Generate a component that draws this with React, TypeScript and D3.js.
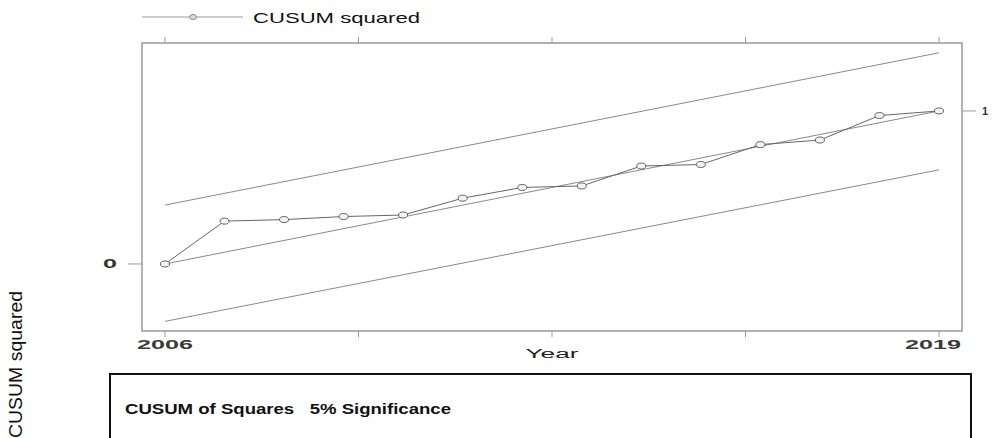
import React from 'react';
import * as d3 from 'd3';

// CUSUM of squares values per year
const years = [2006, 2007, 2008, 2009, 2010, 2011, 2012, 2013, 2014, 2015, 2016, 2017, 2018, 2019];
const cusumSq = [0, 0.28, 0.29, 0.31, 0.32, 0.43, 0.5, 0.51, 0.64, 0.65, 0.78, 0.81, 0.97, 1];

// straight reference lines, values at first and last year
const lineYears = [2006, 2019];
const expectedLine = [0, 1];
const upperBound = [0.385, 1.38];
const lowerBound = [-0.375, 0.615];

const xTicks = [2006, 2009.25, 2012.5, 2015.75, 2019];
const xTickLabels = ['2006', '', '', '', '2019'];
const leftTicks = [0];
const rightTicks = [1];

const W = 992;
const H = 438;
const frame = { left: 142, right: 962, top: 43, bottom: 331 };

const App: React.FC = () => {
    const x = d3.scaleLinear().domain([2006, 2019]).range([165, 939]);
    const y = d3.scaleLinear().domain([-0.438, 1.444]).range([frame.bottom, frame.top]);

    const line = d3.line<[number, number]>()
        .x(d => x(d[0]))
        .y(d => y(d[1]));

    const refLines = [expectedLine, upperBound, lowerBound].map(vals =>
        line(lineYears.map((yr, i) => [yr, vals[i]] as [number, number])) as string
    );
    const cusumPath = line(years.map((yr, i) => [yr, cusumSq[i]] as [number, number])) as string;

    const font = '"Liberation Sans", Arial, sans-serif';

    return (
        <svg width={W} height={H} style={{ position: 'fixed', left: 0, top: 0, background: '#fff' }}
            fontFamily={font}>
            {/* legend */}
            <line x1={142} x2={243} y1={17} y2={17} stroke="#999" strokeWidth={1} />
            <ellipse cx={193} cy={17} rx={3.5} ry={2.5} fill="#ddd" stroke="#888" />
            <text x={253} y={22.5} fontSize={15} textLength={167} lengthAdjust="spacingAndGlyphs" fill="#111">
                CUSUM squared
            </text>

            {/* frame */}
            <rect x={frame.left} y={frame.top} width={frame.right - frame.left} height={frame.bottom - frame.top}
                fill="none" stroke="#999" strokeWidth={1.5} />

            {/* x ticks top and bottom */}
            {xTicks.map((t, i) => (
                <g key={i}>
                    <line x1={x(t)} x2={x(t)} y1={frame.top} y2={frame.top - 6} stroke="#999" />
                    <line x1={x(t)} x2={x(t)} y1={frame.bottom} y2={frame.bottom + 6} stroke="#999" />
                    {xTickLabels[i] && (
                        <text x={i === xTicks.length - 1 ? x(t) - 6 : x(t)} y={348.5} fontSize={13.5} fontWeight="bold"
                            textAnchor="middle" textLength={56} lengthAdjust="spacingAndGlyphs" fill="#3a3a3a">
                            {xTickLabels[i]}
                        </text>
                    )}
                </g>
            ))}
            <text x={x(2012.5)} y={358} fontSize={12.5} textAnchor="middle" textLength={53}
                lengthAdjust="spacingAndGlyphs" fill="#222">Year</text>

            {/* y ticks */}
            {leftTicks.map(t => (
                <g key={'l' + t}>
                    <line x1={frame.left} x2={frame.left - 14} y1={y(t)} y2={y(t)} stroke="#999" />
                    <text x={110} y={y(t) + 4.5} fontSize={12} fontWeight="bold" textAnchor="middle"
                        textLength={14} lengthAdjust="spacingAndGlyphs" fill="#333">{String(t)}</text>
                </g>
            ))}
            {rightTicks.map(t => (
                <g key={'r' + t}>
                    <line x1={frame.right} x2={frame.right + 14} y1={y(t)} y2={y(t)} stroke="#999" />
                    <text x={982} y={y(t) + 4} fontSize={11} fontWeight="bold" fill="#333">{String(t)}</text>
                </g>
            ))}

            {/* reference lines */}
            {refLines.map((d, i) => (
                <path key={i} d={d} fill="none" stroke="#8a8a8a" strokeWidth={1} />
            ))}

            {/* cusum squared series */}
            <path d={cusumPath} fill="none" stroke="#666" strokeWidth={1} />
            {years.map((yr, i) => (
                <ellipse key={yr} cx={x(yr)} cy={y(cusumSq[i])} rx={4.5} ry={3}
                    fill="#f2f2f2" stroke="#555" strokeWidth={0.9} />
            ))}

            {/* y axis title */}
            <text transform={`translate(22,291) rotate(-90)`} fontSize={19} textAnchor="end"
                textLength={147} lengthAdjust="spacingAndGlyphs" fill="#111">CUSUM squared</text>

            {/* lower caption box */}
            <rect x={110} y={374} width={861} height={120} fill="none" stroke="#111" strokeWidth={2} />
            <text x={125} y={413.5} fontSize={14.5} fontWeight="bold" textLength={326}
                lengthAdjust="spacingAndGlyphs" fill="#111" style={{ whiteSpace: 'pre' }}>
                {'CUSUM of Squares   5% Significance'}
            </text>
        </svg>
    );
};

export default App;
